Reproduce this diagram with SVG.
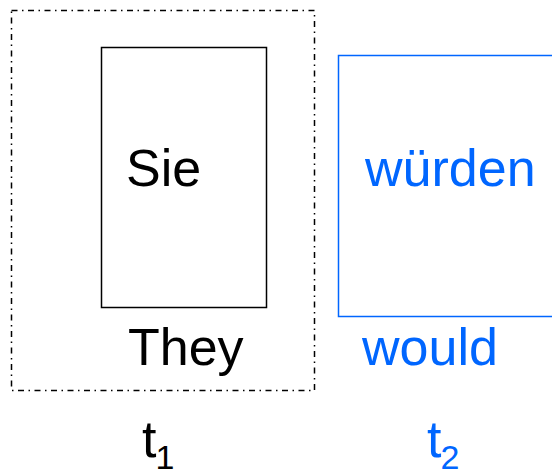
<svg xmlns="http://www.w3.org/2000/svg" width="552" height="472" viewBox="0 0 552 472">
  <style>
    .lbl { font-family: "Liberation Sans", Arial, sans-serif; font-size: 52px; }
    .sub { font-size: 34px; }
    .black { fill: #000; }
    .blue { fill: #0066ff; }
  </style>
  <rect width="552" height="472" fill="#fff"/>
  <!-- dash-dot frame around the first token -->
  <g id="frame-t1">
    <rect x="11.5" y="10.5" width="303" height="380" fill="none" stroke="#000" stroke-width="1.5" stroke-dasharray="6 4.5 1.5 4.5"/>
  </g>
  <g id="node-sie">
    <rect x="101.5" y="47.5" width="165" height="260" fill="none" stroke="#000" stroke-width="1.5"/>
    <text class="lbl black" x="126" y="186">Sie</text>
  </g>
  <g id="node-they">
    <text class="lbl black" x="128" y="365">They</text>
  </g>
  <g id="node-wuerden">
    <rect x="338.5" y="55.5" width="230" height="261" fill="none" stroke="#0066ff" stroke-width="1.5"/>
    <text class="lbl blue" x="365" y="186">würden</text>
  </g>
  <g id="node-would">
    <text class="lbl blue" x="362" y="365">would</text>
  </g>
  <g id="node-t1">
    <text class="lbl black" x="142" y="457">t<tspan class="sub" dx="-1" dy="12">1</tspan></text>
  </g>
  <g id="node-t2">
    <text class="lbl blue" x="427" y="457">t<tspan class="sub" dx="-1" dy="12">2</tspan></text>
  </g>
  <g id="connectors"/>
</svg>
